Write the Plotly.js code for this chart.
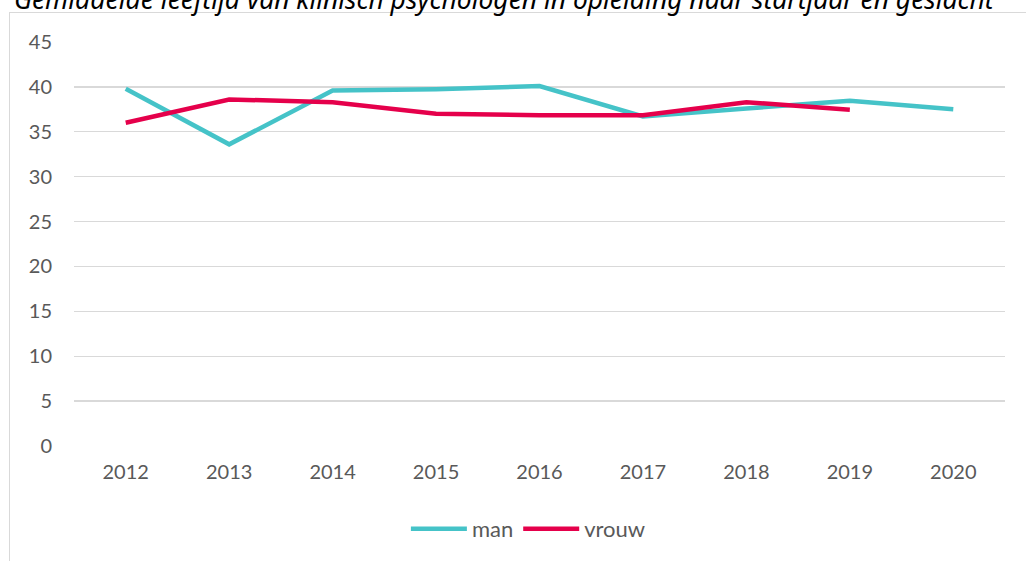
<!DOCTYPE html>
<html>
<head>
<meta charset="utf-8">
<script src="https://cdn.plot.ly/plotly-3.0.1.min.js"></script>
<style>
html,body{margin:0;padding:0;background:#fff;}
#wrap{position:relative;width:1026px;height:561px;overflow:hidden;}
#chart{position:absolute;left:0;top:0;width:1026px;height:561px;}
#frame{position:absolute;left:9px;top:12px;width:1030px;height:560px;border:1px solid #d9d9d9;pointer-events:none;box-sizing:border-box;}
</style>
</head>
<body>
<div id="wrap">
<div id="frame"></div>
<div id="chart"></div>
</div>
<script>
const years = ['2012','2013','2014','2015','2016','2017','2018','2019','2020'];
const manValues = [39.8, 33.6, 39.6, 39.75, 40.1, 36.7, 37.6, 38.45, 37.5];
const vrouwYears = ['2012','2013','2014','2015','2016','2017','2018','2019'];
const vrouwValues = [36.0, 38.6, 38.3, 37.0, 36.85, 36.85, 38.3, 37.45];
const yTicks = [0,5,10,15,20,25,30,35,40,45];
const titleText = 'Gemiddelde leeftijd van klinisch psychologen in opleiding naar startjaar en geslacht';

const traces = [
  {x: years, y: manValues, name: 'man', type: 'scatter', mode: 'lines',
   line: {color: '#45C3C8', width: 4.5}},
  {x: vrouwYears, y: vrouwValues, name: 'vrouw', type: 'scatter', mode: 'lines',
   line: {color: '#E5004B', width: 4.5}}
];

const layout = {
  width: 1026, height: 561,
  paper_bgcolor: 'rgba(0,0,0,0)', plot_bgcolor: 'rgba(0,0,0,0)',
  margin: {l: 74, r: 21, t: 42, b: 115},
  font: {family: 'Lato, "Liberation Sans", sans-serif', size: 20, color: '#595959'},
  title: {text: '<i>' + titleText + '</i>', font: {family: '"Noto Sans", "DejaVu Sans", sans-serif', size: 26.4, color: '#000'},
          x: 0.491, xanchor: 'center', xref: 'container', y: 1.0, yanchor: 'middle', yref: 'container'},
  xaxis: {type: 'category', categoryorder: 'array', categoryarray: years, range: [-0.5, 8.5],
          showgrid: false, zeroline: false, showline: false, ticks: '', ticklabelstandoff: 12,
          tickfont: {size: 20, color: '#595959'}, fixedrange: true},
  yaxis: {range: [0, 45], tickvals: yTicks, ticktext: yTicks.map(String),
          showgrid: true, gridcolor: '#d9d9d9', gridwidth: 1.3, zeroline: false, showline: false,
          ticks: '', ticklabelstandoff: 21, tickfont: {size: 20, color: '#595959'}},
  showlegend: true,
  legend: {orientation: 'h', x: 0.515, xanchor: 'center', xref: 'container', y: 0.057, yanchor: 'middle', yref: 'container',
           font: {size: 22, color: '#595959'}, itemwidth: 56, tracegroupgap: 0}
};

Plotly.newPlot('chart', traces, layout, {displayModeBar: false, staticPlot: true});
</script>
</body>
</html>
